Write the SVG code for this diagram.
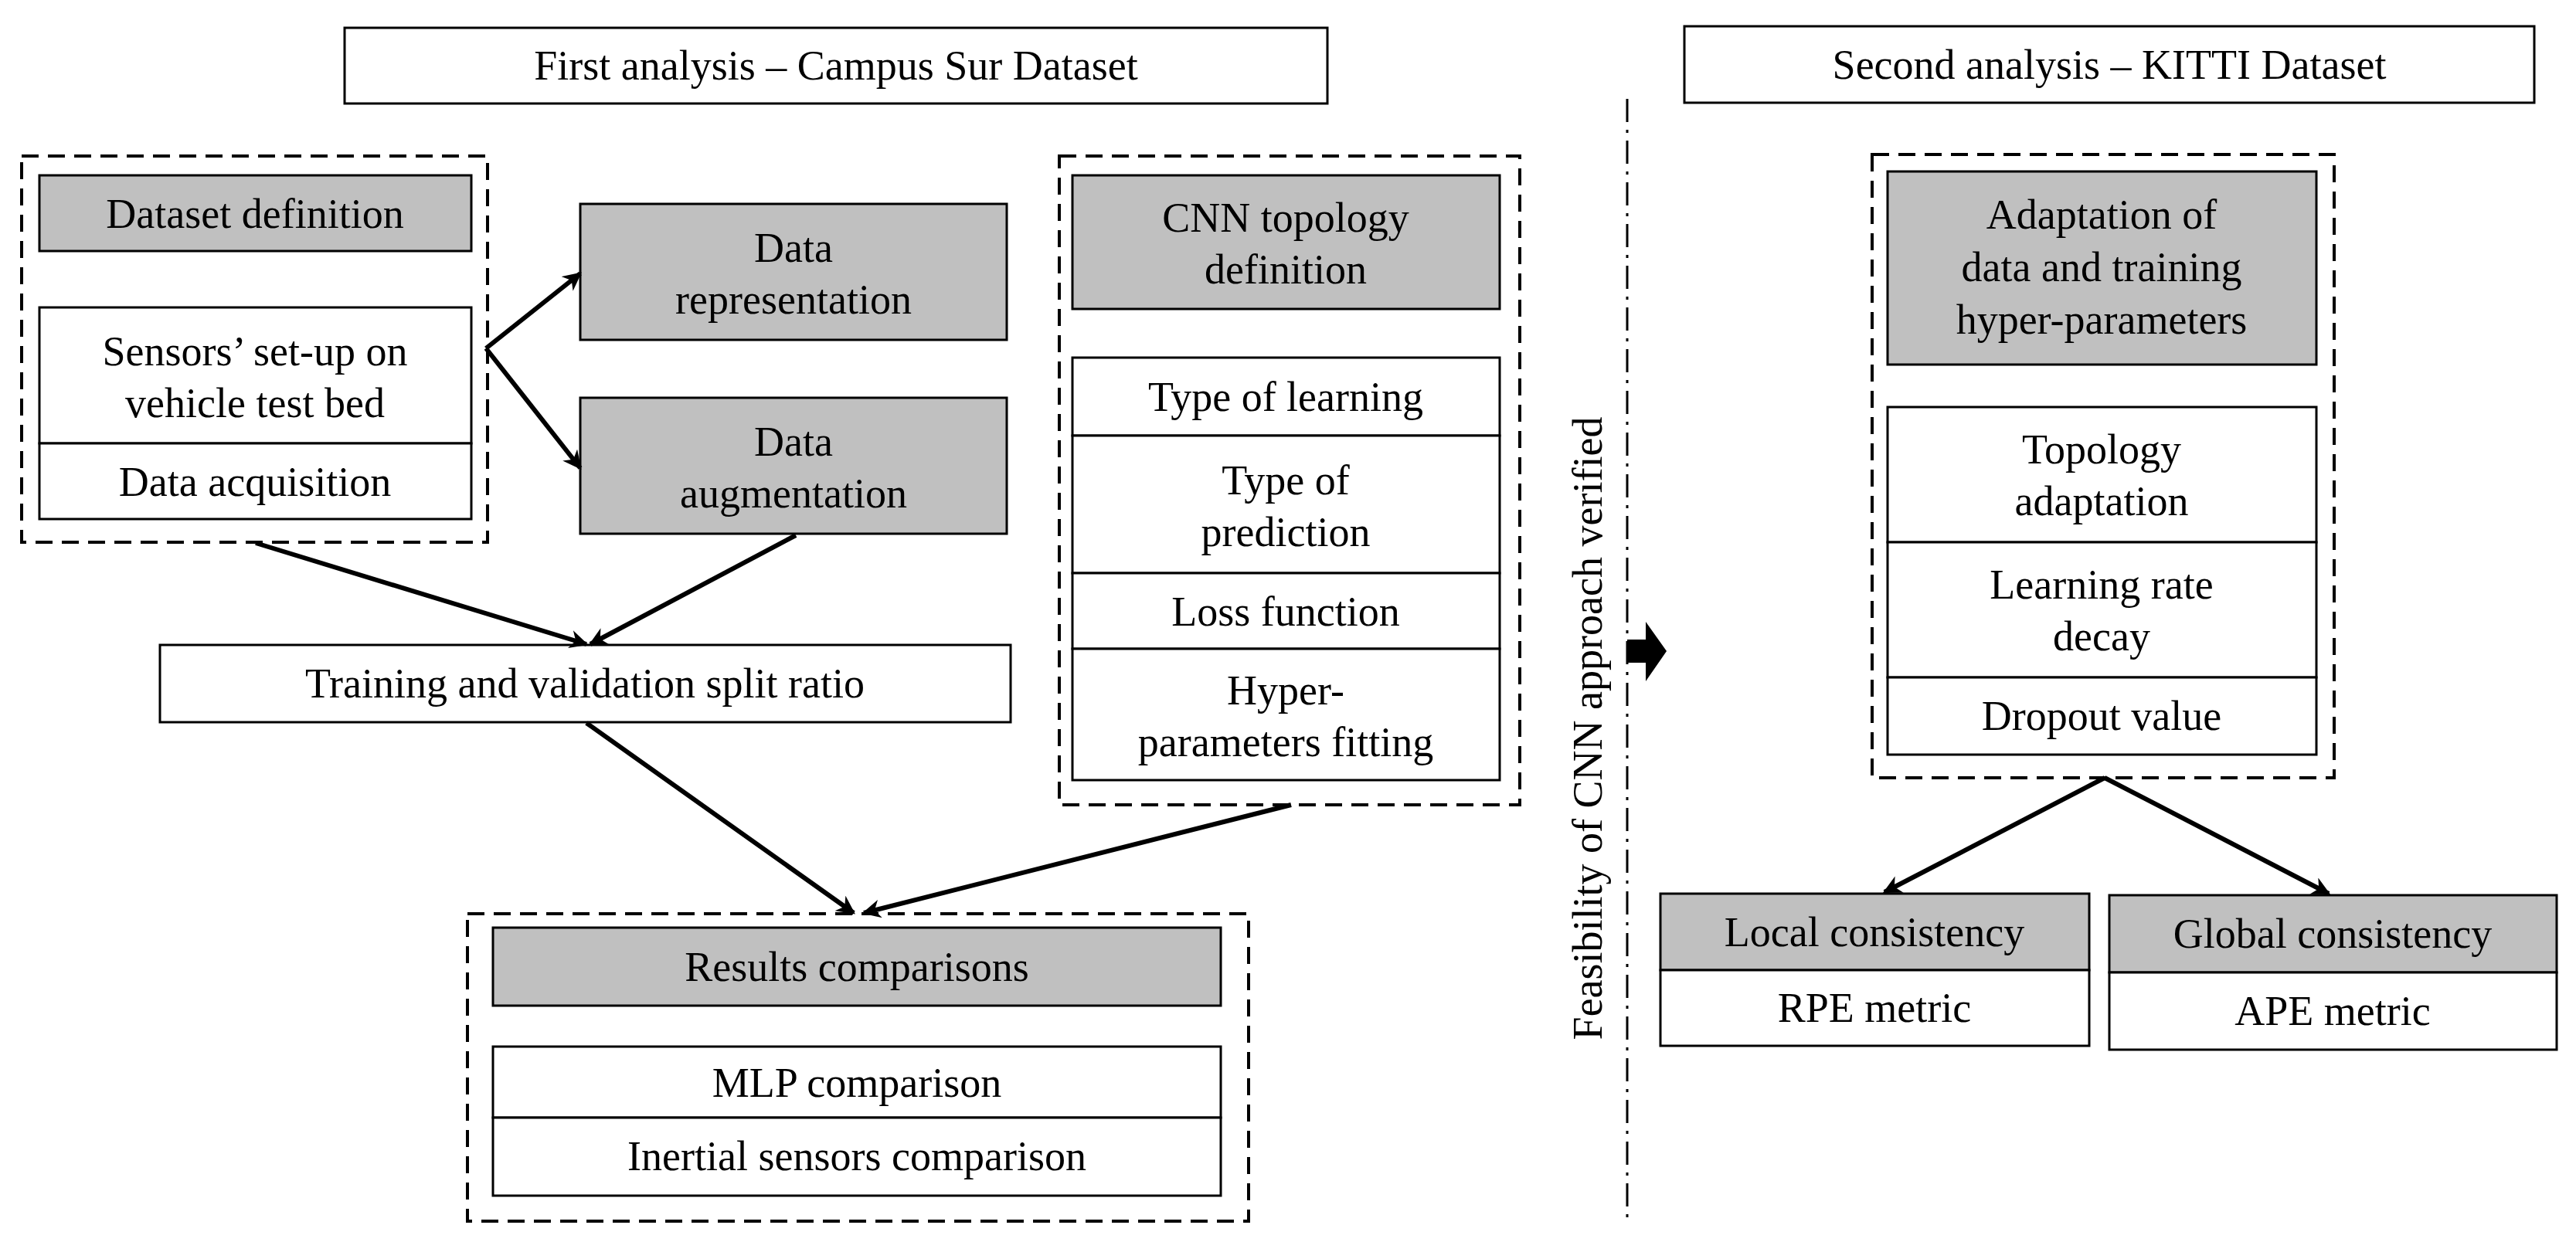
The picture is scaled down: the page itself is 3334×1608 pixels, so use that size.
<svg xmlns="http://www.w3.org/2000/svg" width="3334" height="1608" viewBox="0 0 3334 1608">
<defs>
<style>
text{font-family:"Liberation Serif","DejaVu Serif",serif;font-size:54px;fill:#000;text-anchor:middle}
.b{fill:#fff;stroke:#000;stroke-width:3}
.g{fill:#c0c0c0;stroke:#000;stroke-width:3}
.d{fill:none;stroke:#000;stroke-width:4;stroke-dasharray:22 12}
.c{stroke:#000;stroke-width:6;fill:none;marker-end:url(#ah)}
</style>
<marker id="ah" viewBox="0 0 10 10" refX="9" refY="5" markerWidth="4" markerHeight="4" orient="auto" markerUnits="strokeWidth"><path d="M0,0L10,5L0,10L3,5z" fill="#000"/></marker>
</defs>
<rect width="3334" height="1608" fill="#fff"/>
<g id="title1"><rect class="b" x="446" y="36" width="1272" height="98"/><text x="1082" y="103">First analysis – Campus Sur Dataset</text></g>
<g id="title2"><rect class="b" x="2180" y="34" width="1100" height="99"/><text x="2730" y="102">Second analysis – KITTI Dataset</text></g>
<g id="dataset"><rect class="d" x="28" y="202" width="603" height="500"/>
<rect class="g" x="51" y="227" width="559" height="98"/><text x="330" y="295">Dataset definition</text>
<rect class="b" x="51" y="398" width="559" height="176"/><text x="330" y="473">Sensors’ set-up on</text><text x="330" y="540">vehicle test bed</text>
<rect class="b" x="51" y="574" width="559" height="98"/><text x="330" y="642">Data acquisition</text></g>
<g id="datarep"><rect class="g" x="751" y="264" width="552" height="176"/><text x="1027" y="339">Data</text><text x="1027" y="406">representation</text></g>
<g id="dataaug"><rect class="g" x="751" y="515" width="552" height="176"/><text x="1027" y="590">Data</text><text x="1027" y="657">augmentation</text></g>
<g id="training"><rect class="b" x="207" y="835" width="1101" height="100"/><text x="757" y="903">Training and validation split ratio</text></g>
<g id="cnn"><rect class="d" x="1371" y="202" width="596" height="840"/>
<rect class="g" x="1388" y="227" width="553" height="173"/><text x="1664" y="300">CNN topology</text><text x="1664" y="367">definition</text>
<rect class="b" x="1388" y="463" width="553" height="101"/><text x="1664" y="532">Type of learning</text>
<rect class="b" x="1388" y="564" width="553" height="178"/><text x="1664" y="640">Type of</text><text x="1664" y="707">prediction</text>
<rect class="b" x="1388" y="742" width="553" height="98"/><text x="1664" y="810">Loss function</text>
<rect class="b" x="1388" y="840" width="553" height="170"/><text x="1664" y="912">Hyper-</text><text x="1664" y="979">parameters fitting</text></g>
<g id="results"><rect class="d" x="605" y="1183" width="1011" height="398"/>
<rect class="g" x="638" y="1201" width="942" height="101"/><text x="1109" y="1270">Results comparisons</text>
<rect class="b" x="638" y="1355" width="942" height="92"/><text x="1109" y="1420">MLP comparison</text>
<rect class="b" x="638" y="1447" width="942" height="101"/><text x="1109" y="1515">Inertial sensors comparison</text></g>
<g id="divider"><line x1="2106" y1="128" x2="2106" y2="1580" stroke="#000" stroke-width="3" stroke-dasharray="30 10 4 10"/>
<text transform="translate(2073,943) rotate(-90)">Feasibility of CNN approach verified</text>
<path d="M2106,828H2130V805L2157,843L2130,882V858H2106z" fill="#000"/></g>
<g id="adapt"><rect class="d" x="2423" y="200" width="598" height="807"/>
<rect class="g" x="2443" y="222" width="555" height="250"/><text x="2720" y="296">Adaptation of</text><text x="2720" y="364">data and training</text><text x="2720" y="432">hyper-parameters</text>
<rect class="b" x="2443" y="527" width="555" height="175"/><text x="2720" y="600">Topology</text><text x="2720" y="667">adaptation</text>
<rect class="b" x="2443" y="702" width="555" height="175"/><text x="2720" y="775">Learning rate</text><text x="2720" y="842">decay</text>
<rect class="b" x="2443" y="877" width="555" height="100"/><text x="2720" y="945">Dropout value</text></g>
<g id="local"><rect class="g" x="2149" y="1157" width="555" height="99"/><text x="2426" y="1225">Local consistency</text>
<rect class="b" x="2149" y="1256" width="555" height="98"/><text x="2426" y="1323">RPE metric</text></g>
<g id="global"><rect class="g" x="2730" y="1159" width="579" height="100"/><text x="3019" y="1227">Global consistency</text>
<rect class="b" x="2730" y="1259" width="579" height="100"/><text x="3019" y="1327">APE metric</text></g>
<g id="connectors">
<line class="c" x1="629" y1="451" x2="751" y2="354"/>
<line class="c" x1="629" y1="451" x2="751" y2="606"/>
<line class="c" x1="331" y1="703" x2="759" y2="834"/>
<line class="c" x1="1030" y1="693" x2="764" y2="834"/>
<line class="c" x1="759" y1="936" x2="1105" y2="1182"/>
<line class="c" x1="1671" y1="1042" x2="1118" y2="1182"/>
<line class="c" x1="2724" y1="1007" x2="2439" y2="1155"/>
<line class="c" x1="2724" y1="1007" x2="3014" y2="1157"/>
</g>
</svg>
